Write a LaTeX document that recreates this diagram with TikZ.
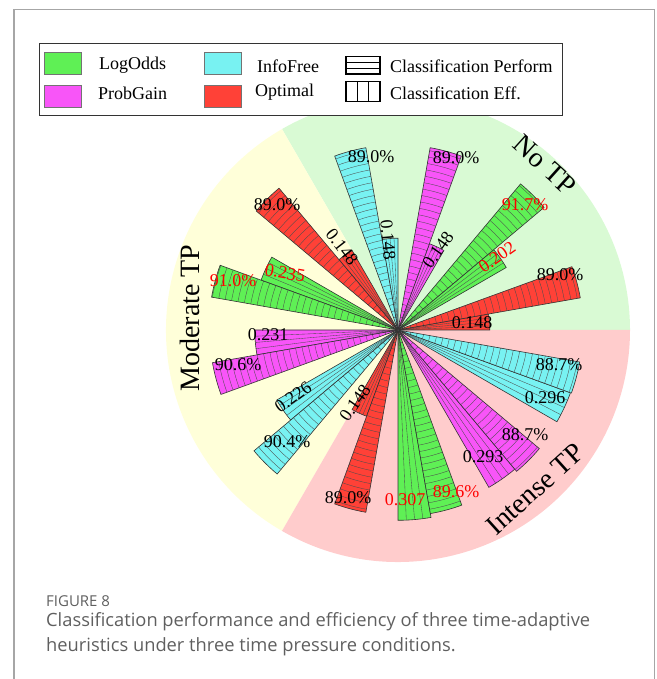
\documentclass[tikz,border=0pt]{standalone}
\usepackage{fontspec}
\setmainfont{Liberation Serif}
\newfontfamily\capfont{Open Sans}

\definecolor{notp}{RGB}{217,250,212}
\definecolor{modtp}{RGB}{255,255,217}
\definecolor{inttp}{RGB}{255,204,204}
\definecolor{logodds}{RGB}{95,240,85}
\definecolor{probgain}{RGB}{248,85,248}
\definecolor{infofree}{RGB}{120,242,242}
\definecolor{optimal}{RGB}{255,65,55}
\definecolor{capgray}{RGB}{95,95,95}

\begin{document}
\begin{tikzpicture}[x=1pt, y=1pt,
    barline/.style ={draw=black!80, line width=0.6pt},
    hatch/.style ={draw=black!70, line width=0.35pt},
    lbl/.style ={inner sep=0pt, font=\fontsize{18}{18}\selectfont},
    redlbl/.style ={lbl, text=red},
    tptitle/.style ={inner sep=0pt, font=\fontsize{28}{28}\selectfont},
    legtext/.style ={anchor=west, inner sep=0pt, font=\fontsize{18}{18}\selectfont},
    swatch/.style ={draw=black!55, line width=0.8pt},
    captext/.style ={anchor=west, inner sep=0pt, text=capgray}]

   \useasboundingbox (0,0) rectangle (656,679);
   \coordinate (O) at (398,349);

   % the three time pressure sectors
   \fill[notp] (O) -- ++(0:232) arc (0:120:232) -- cycle;
   \fill[modtp] (O) -- ++(120:232) arc (120:240:232) -- cycle;
   \fill[inttp] (O) -- ++(240:232) arc (240:360:232) -- cycle;

   % efficiency bars (radial hatch)
   \foreach \a/\r/\c in {0/91.8/optimal, 30/125/logodds, 60/91.8/probgain, 90/91.8/infofree,
                         120/91.8/optimal, 150/145.7/logodds, 180/143.2/probgain, 210/140.1/infofree,
                         240/91.8/optimal, 270/190.3/logodds, 300/181.7/probgain, 330/183.5/infofree} {
     \fill[\c] (O) -- ++(\a:\r) arc (\a:\a+10:\r) -- cycle;
     \foreach \t in {2.5,5,7.5}
       \draw[hatch] (O) -- ++(\a+\t:\r);
     \draw[barline] (O) -- ++(\a:\r) arc (\a:\a+10:\r) -- cycle;
   }

   % performance bars (rung hatch)
   \foreach \a/\r/\c in {10/185.1/optimal, 40/190.7/logodds, 70/185.1/probgain, 100/185.1/infofree,
                         130/185.1/optimal, 160/189.3/logodds, 190/188.4/probgain, 220/188/infofree,
                         250/185.1/optimal, 280/186.4/logodds, 310/184.5/probgain, 340/184.5/infofree} {
     \fill[\c] (O) -- ++(\a:\r) arc (\a:\a+10:\r) -- cycle;
     \foreach \rr in {6.5,13,...,\r}
       \draw[hatch] (O) ++(\a:\rr) arc (\a:\a+10:\rr);
     \draw[barline] (O) -- ++(\a:\r) arc (\a:\a+10:\r) -- cycle;
   }

   % value labels, No TP
   \node[lbl] (noOptEff) at (472,356) {0.148};
   \node[lbl] (noOptPerf) at (560,404) {89.0\%};
   \node[redlbl, rotate=35] (noLogEff) at (497,422) {0.202};
   \node[redlbl] (noLogPerf) at (525,474) {91.7\%};
   \node[lbl, rotate=55] (noProbEff) at (438,429) {0.148};
   \node[lbl] (noProbPerf) at (456,521) {89.0\%};
   \node[lbl, rotate=-85] (noInfoEff) at (388,439) {0.148};
   \node[lbl] (noInfoPerf) at (371,522) {89.0\%};

   % value labels, Moderate TP
   \node[lbl, rotate=-52] (modOptEff) at (342,432) {0.148};
   \node[lbl] (modOptPerf) at (277,474) {89.0\%};
   \node[redlbl, rotate=-10] (modLogEff) at (285,406) {0.235};
   \node[redlbl] (modLogPerf) at (233,398) {91.0\%};
   \node[lbl] (modProbEff) at (268,344) {0.231};
   \node[lbl] (modProbPerf) at (238,314) {90.6\%};
   \node[lbl, rotate=36] (modInfoEff) at (293,282) {0.226};
   \node[lbl] (modInfoPerf) at (287,237) {90.4\%};

   % value labels, Intense TP
   \node[lbl, rotate=55] (intOptEff) at (355,276) {0.148};
   \node[lbl] (intOptPerf) at (348,181) {89.0\%};
   \node[redlbl] (intLogEff) at (405,179) {0.307};
   \node[redlbl] (intLogPerf) at (456,187) {89.6\%};
   \node[lbl] (intProbEff) at (483,222) {0.293};
   \node[lbl] (intProbPerf) at (525,244) {88.7\%};
   \node[lbl] (intInfoEff) at (545,281) {0.296};
   \node[lbl] (intInfoPerf) at (559,314) {88.7\%};

   % sector titles
   \node[tptitle, rotate=-42] (noTitle) at (545,514) {No TP};
   \node[tptitle, rotate=90] (modTitle) at (190,361) {Moderate TP};
   \node[tptitle, rotate=42] (intTitle) at (535,190) {Intense TP};

   % legend
   \draw[fill=white, draw=black!80, line width=0.8pt] (39,564) rectangle (562,636);
   \draw[swatch, fill=logodds] (44.3,605) rectangle (81.7,626.7);
   \draw[swatch, fill=probgain] (44.3,571.3) rectangle (81.7,593.3);
   \draw[swatch, fill=infofree] (204,605) rectangle (241,626.7);
   \draw[swatch, fill=optimal] (204,571.3) rectangle (241,593.3);
   \node[legtext] (legLog) at (99,614) {LogOdds};
   \node[legtext] (legProb) at (98,586) {ProbGain};
   \node[legtext] (legInfo) at (257,613) {InfoFree};
   \node[legtext] (legOpt) at (255,587) {Optimal};
   \draw[line width=1.1pt] (346,605) rectangle (380,622.3);
   \draw[line width=1.1pt] (346,610.8) -- (380,610.8) (346,616.5) -- (380,616.5);
   \draw[line width=1.1pt] (346,577.3) rectangle (380,597.3);
   \draw[line width=1.1pt] (357.3,577.3) -- (357.3,597.3) (368.7,577.3) -- (368.7,597.3);
   \node[legtext] (legPerf) at (390,612.5) {Classification Perform};
   \node[legtext] (legEff) at (390,586) {Classification Eff.};

   % frame
   \draw[black!35, line width=1.2pt] (14,0) -- (14,669.5) -- (654.5,669.5) -- (654.5,0);

   % caption
   \node[captext, font=\capfont\fontsize{15}{15}\selectfont] (figNo) at (46,78) {FIGURE 8};
   \node[captext, font=\capfont\fontsize{18.3}{18.3}\selectfont] (capOne) at (46,57)
     {Classification performance and efficiency of three time-adaptive};
   \node[captext, font=\capfont\fontsize{18.3}{18.3}\selectfont] (capTwo) at (46,32)
     {heuristics under three time pressure conditions.};
 \end{tikzpicture}
\end{document}
